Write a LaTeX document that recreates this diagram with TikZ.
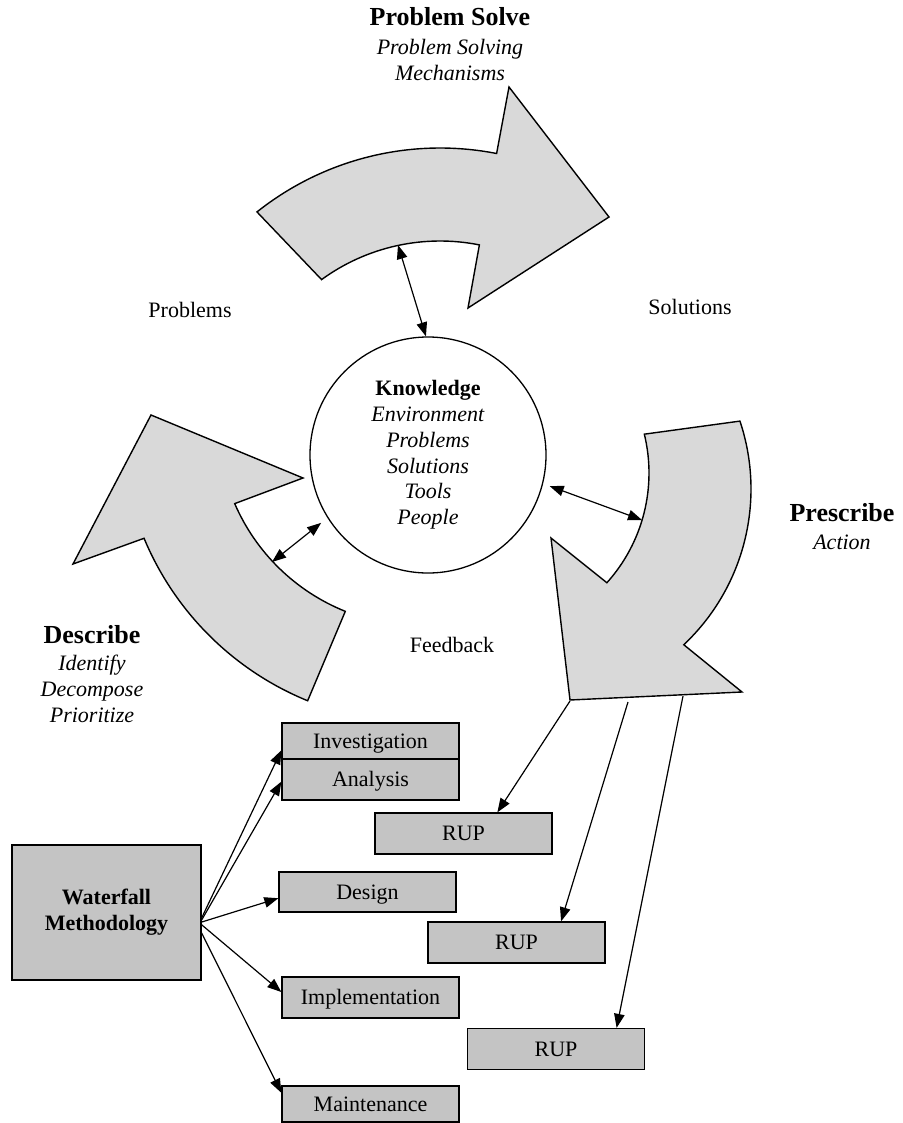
\documentclass[tikz,border=0pt]{standalone}
\usepackage{fontspec}
\setmainfont{Liberation Serif}
\usetikzlibrary{arrows.meta,calc}

\tikzset{
  swirl/.style={draw=black, line width=1.4pt, fill=black!15, line join=miter},
  stagebox/.style={draw=black, line width=1.3pt, fill=black!23, minimum width=177pt,
                   inner sep=0pt, text height=18pt, text depth=4pt,
                   font=\fontsize{22}{26}\selectfont},
  conn/.style={line width=1.2pt, -{Triangle[length=14pt,width=10.5pt]}},
  dbl/.style={line width=1.2pt, {Triangle[length=14pt,width=10.5pt]}-{Triangle[length=14pt,width=10.5pt]}},
  lbl/.style={font=\fontsize{22}{26}\selectfont, align=center, inner sep=0pt},
  sublbl/.style={font=\fontsize{22}{26}\selectfont\itshape, align=center, inner sep=0pt},
  titletext/.style={font=\fontsize{26}{30}\selectfont\bfseries, inner sep=0pt},
}

\begin{document}
\begin{tikzpicture}[x=1pt,y=1pt]
\useasboundingbox (0,0) rectangle (902,-1123);
\fill[white] (0,0) rectangle (902,-1123);

% centres of the curved block arrows
\coordinate (tc) at (440,-442);
\coordinate (lc) at (421,-423);
\coordinate (ro) at (537,-489);
\coordinate (ri) at (485,-473);

% top arrow: Problem Solve
\draw[swirl] ($(tc)+(128.5:294)$) arc[start angle=128.5, end angle=78.9, radius=294]
  -- (509,-87) -- (609,-217) -- (468,-308)
  -- ($(tc)+(78.7:201)$) arc[start angle=78.7, end angle=126.1, radius=201] -- cycle;

% left arrow: Describe
\draw[swirl] ($(lc)+(247.8:300)$) arc[start angle=247.8, end angle=202.6, radius=300]
  -- (73,-564) -- (151,-415) -- (303,-478)
  -- ($(lc)+(203.4:203)$) arc[start angle=203.4, end angle=248.1, radius=203] -- cycle;

% right arrow: Prescribe
\draw[swirl] ($(ro)+(18.5:214)$) arc[start angle=18.5, end angle=-46.7, radius=214]
  -- (742,-692) -- (570,-700) -- (551,-538)
  -- ($(ri)+(-42:164)$) arc[start angle=-42, end angle=13.7, radius=164] -- cycle;

% knowledge circle
\node[circle, draw=black, line width=1.3pt, minimum size=236pt, inner sep=0pt,
      align=center, font=\fontsize{22}{25.8}\selectfont] (K) at (428,-455)
  {\textbf{Knowledge}\\\textit{Environment}\\\textit{Problems}\\\textit{Solutions}\\\textit{Tools}\\\textit{People}};

% headings
\node[titletext] (ps) at (450,-17) {Problem Solve};
\node[sublbl] (psd) at (450,-60) {Problem Solving\\Mechanisms};
\node[titletext] (pr) at (842,-513) {Prescribe};
\node[sublbl] (prd) at (842,-542) {Action};
\node[titletext] (de) at (92,-635) {Describe};
\node[sublbl] (ded) at (92,-689) {Identify\\Decompose\\Prioritize};

% flow labels
\node[lbl] (lp) at (190,-310) {Problems};
\node[lbl] (ls) at (690,-307) {Solutions};
\node[lbl] (lf) at (452,-645) {Feedback};

% links between the arrows and the knowledge circle
\coordinate (ta) at (398,-245);
\coordinate (la) at (272,-562);
\coordinate (ra) at (642,-520);
\draw[dbl] (ta) -- (K.91);
\draw[dbl, shorten >=8pt] (la) -- (K.212);
\draw[dbl, shorten >=7pt] (ra) -- (K.-14);

% waterfall phases
\node[stagebox, minimum width=189pt, minimum height=135pt, align=center,
      text height=, text depth=,
      font=\fontsize{22}{26}\selectfont\bfseries] (wf) at (106.5,-912.5) {Waterfall\\Methodology};
\node[stagebox, minimum height=36pt] (inv) at (370.5,-741) {Investigation};
\node[stagebox, minimum height=41pt] (ana) at (370.5,-779.5) {Analysis};
\node[stagebox, minimum height=40pt] (des) at (367.5,-892) {Design};
\node[stagebox, minimum height=41pt] (imp) at (370.5,-997.5) {Implementation};
\node[stagebox, minimum height=36pt] (mai) at (370.5,-1104) {Maintenance};

% RUP boxes
\node[stagebox, minimum height=41pt] (rup1) at (463.5,-833.5) {RUP};
\node[stagebox, minimum height=41pt] (rup2) at (516.5,-942.5) {RUP};
\node[stagebox, minimum height=41pt] (rup3) at (556,-1049) {RUP};

% waterfall connectors
\draw[conn] ($(wf.north east)!0.54!(wf.south east)$) -- ($(inv.north west)!0.75!(inv.south west)$);
\draw[conn] ($(wf.north east)!0.555!(wf.south east)$) -- ($(ana.north west)!0.55!(ana.south west)$);
\draw[conn] ($(wf.north east)!0.57!(wf.south east)$) -- ($(des.north west)!0.65!(des.south west)$);
\draw[conn] ($(wf.north east)!0.59!(wf.south east)$) -- ($(imp.north west)!0.37!(imp.south west)$);
\draw[conn] ($(wf.north east)!0.65!(wf.south east)$) -- ($(mai.north west)!0.2!(mai.south west)$);

% prescribe to RUP connectors
\coordinate (s1) at (570,-701);
\coordinate (s2) at (628,-702);
\coordinate (s3) at (683,-696);
\draw[conn] (s1) -- ($(rup1.north west)!0.69!(rup1.north east)$);
\draw[conn] (s2) -- ($(rup2.north west)!0.75!(rup2.north east)$);
\draw[conn] (s3) -- ($(rup3.north west)!0.84!(rup3.north east)$);
\end{tikzpicture}
\end{document}
